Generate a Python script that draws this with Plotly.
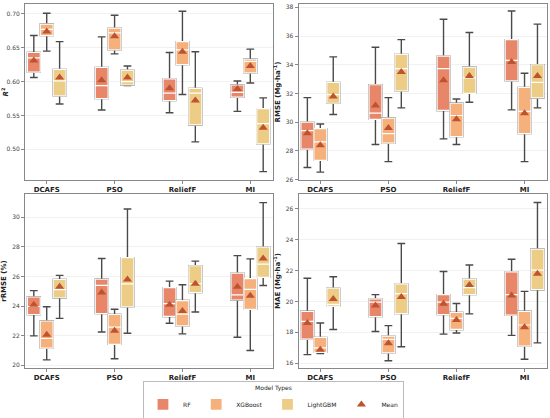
import plotly.graph_objects as go
from plotly.subplots import make_subplots

methods = ["DCAFS", "PSO", "ReliefF", "MI"]
models = ["RF", "XGBoost", "LightGBM"]

# each tuple: (lower whisker, q1, median, q3, upper whisker, mean) for DCAFS, PSO, ReliefF, MI
r2_rf = [(0.606, 0.614, 0.635, 0.643, 0.668, 0.631), (0.558, 0.575, 0.594, 0.621, 0.666, 0.602),
         (0.554, 0.572, 0.583, 0.604, 0.643, 0.590), (0.556, 0.577, 0.584, 0.595, 0.601, 0.589)]
r2_xgb = [(0.645, 0.668, 0.677, 0.685, 0.701, 0.674), (0.641, 0.647, 0.672, 0.679, 0.698, 0.667),
          (0.581, 0.625, 0.647, 0.659, 0.704, 0.644), (0.598, 0.613, 0.630, 0.633, 0.648, 0.623)]
r2_lgb = [(0.567, 0.579, 0.601, 0.618, 0.659, 0.606), (0.594, 0.595, 0.600, 0.617, 0.623, 0.606),
          (0.511, 0.536, 0.583, 0.590, 0.644, 0.572), (0.467, 0.508, 0.538, 0.560, 0.576, 0.532)]

rmse_rf = [(26.85, 28.13, 29.42, 30.01, 31.71, 29.23), (28.45, 30.20, 30.63, 32.61, 35.22, 31.16),
           (28.84, 30.82, 33.73, 34.60, 37.17, 32.93), (30.86, 32.88, 34.30, 35.75, 37.74, 34.19)]
rmse_xgb = [(26.53, 27.35, 28.64, 29.55, 29.88, 28.39), (27.26, 28.55, 29.21, 30.29, 31.71, 29.60),
            (28.45, 29.00, 30.47, 31.32, 31.62, 30.20), (27.26, 29.21, 30.75, 32.42, 33.41, 30.63)]
rmse_lgb = [(30.54, 31.32, 31.92, 32.77, 34.55, 31.80), (31.00, 32.19, 33.73, 34.72, 35.75, 33.50),
            (31.39, 32.01, 33.09, 33.84, 36.25, 33.22), (31.00, 31.69, 32.77, 34.00, 36.83, 33.22)]

rrmse_rf = [(21.99, 23.43, 23.97, 24.61, 25.04, 24.08), (22.25, 23.49, 25.39, 25.81, 27.21, 24.91),
            (22.84, 23.30, 24.17, 25.24, 25.68, 24.08), (21.90, 24.41, 24.76, 26.22, 27.40, 25.31)]
rrmse_xgb = [(20.37, 21.16, 21.81, 22.99, 23.95, 22.07), (20.44, 21.42, 22.58, 23.43, 23.78, 22.34),
             (22.12, 22.66, 23.45, 24.37, 25.44, 23.67), (21.00, 23.78, 25.13, 25.85, 27.18, 24.69)]
rrmse_lgb = [(23.17, 24.56, 25.11, 25.79, 26.07, 25.31), (22.16, 23.95, 25.50, 27.27, 30.55, 25.79),
             (23.60, 24.91, 25.52, 26.72, 27.03, 25.50), (25.39, 25.94, 26.83, 27.97, 30.98, 27.21)]

mae_rf = [(16.55, 17.56, 18.71, 19.36, 21.50, 18.60), (18.05, 19.02, 19.95, 20.16, 20.44, 19.74),
          (17.88, 19.15, 19.95, 20.44, 21.94, 19.85), (17.80, 19.11, 20.44, 21.92, 22.74, 20.38)]
mae_xgb = [(16.61, 16.70, 16.99, 17.67, 18.60, 16.87), (16.15, 16.66, 17.54, 17.75, 18.43, 17.29),
           (17.95, 18.18, 18.90, 19.28, 19.87, 18.79), (16.25, 17.10, 18.47, 19.36, 20.65, 18.33)]
mae_lgb = [(18.18, 19.68, 19.81, 20.86, 21.60, 20.16), (17.06, 19.21, 20.50, 21.14, 23.76, 20.29),
           (19.19, 20.44, 20.90, 21.45, 22.36, 21.07), (17.31, 20.76, 22.03, 23.40, 26.42, 21.79)]

colors = ["#E8866A", "#F6B07C", "#EDCD85"]
mean_color = "#C0532F"
whisk_color = "#4a4a4a"
offsets = [-0.19, 0.0, 0.19]
bw = 0.19

panels = [
    (1, 1, [r2_rf, r2_xgb, r2_lgb], [0.4547, 0.7146], 0.05, ".2f", "<b><i>R</i><sup>2</sup></b>"),
    (1, 2, [rmse_rf, rmse_xgb, rmse_lgb], [25.98, 38.23], 2, "d", "<b>RMSE (Mg·ha<sup>-1</sup>)</b>"),
    (2, 1, [rrmse_rf, rrmse_xgb, rrmse_lgb], [19.82, 31.56], 2, "d", "<b>rRMSE (%)</b>"),
    (2, 2, [mae_rf, mae_xgb, mae_lgb], [15.68, 26.97], 2, "d", "<b>MAE (Mg·ha<sup>-1</sup>)</b>"),
]

fig = make_subplots(rows=2, cols=2)

for p, (row, col, series, yr, dt, fmt, ytitle) in enumerate(panels):
    for k, stats in enumerate(series):
        xs = [i + offsets[k] for i in range(len(methods))]
        lo = [s[0] for s in stats]
        q1 = [s[1] for s in stats]
        med = [s[2] for s in stats]
        q3 = [s[3] for s in stats]
        hi = [s[4] for s in stats]
        # whiskers
        fig.add_trace(go.Box(x=xs, q1=q1, median=med, q3=q3, lowerfence=lo, upperfence=hi,
                             width=bw, whiskerwidth=0.6, fillcolor=colors[k],
                             line=dict(color=whisk_color, width=1.4),
                             showlegend=False, hoverinfo="skip"), row=row, col=col)
        # box body with white median
        fig.add_trace(go.Box(x=xs, q1=q1, median=med, q3=q3, lowerfence=q1, upperfence=q3,
                             width=bw, whiskerwidth=0, fillcolor=colors[k],
                             line=dict(color="white", width=1.2),
                             name=models[k], legendgroup=models[k], showlegend=(p == 0)),
                      row=row, col=col)
    for k, stats in enumerate(series):
        xs = [i + offsets[k] for i in range(len(methods))]
        fig.add_trace(go.Scatter(x=xs, y=[s[5] for s in stats], mode="markers",
                                 marker=dict(symbol="triangle-up", size=8, color=mean_color),
                                 name="Mean", legendgroup="Mean",
                                 showlegend=(p == 0 and k == 0)), row=row, col=col)
    fig.update_yaxes(range=yr, dtick=dt, tickformat=fmt, row=row, col=col,
                     title=dict(text=ytitle, font=dict(size=7, color="#222"), standoff=4))

fig.update_xaxes(range=[-0.32, 3.33], tickvals=list(range(len(methods))),
                 ticktext=["<b>%s</b>" % m for m in methods],
                 tickfont=dict(size=7, color="#222"), showgrid=False, zeroline=False,
                 showline=True, mirror=True, linecolor="#888", linewidth=1,
                 ticks="outside", ticklen=3, tickcolor="#888")
fig.update_yaxes(tickfont=dict(size=6, color="#444"), showgrid=True, gridcolor="#f1f1f1",
                 zeroline=False, showline=True, mirror=True, linecolor="#888", linewidth=1,
                 ticks="outside", ticklen=3, tickcolor="#888")

fig.update_layout(
    xaxis=dict(domain=[0, 0.4745]), xaxis2=dict(domain=[0.524, 1]),
    xaxis3=dict(domain=[0, 0.4745]), xaxis4=dict(domain=[0.524, 1]),
    yaxis=dict(domain=[0.5165, 1]), yaxis2=dict(domain=[0.5165, 1]),
    yaxis3=dict(domain=[0, 0.478]), yaxis4=dict(domain=[0, 0.478]),
    width=550, height=418,
    margin=dict(l=25, r=3, t=4, b=50, autoexpand=False),
    plot_bgcolor="white", paper_bgcolor="white",
    font=dict(family="DejaVu Sans", size=7, color="#222"),
    boxmode="overlay",
    legend=dict(orientation="h", x=0.476, xanchor="center", y=-0.036, yanchor="top",
                title=dict(text="Model Types", side="top center", font=dict(size=6)),
                font=dict(size=6), bordercolor="#bbb", borderwidth=1, bgcolor="white",
                itemwidth=30, tracegroupgap=0),
)

fig.write_html("out.html", config={"displayModeBar": False},
               post_script="document.body.style.margin='0';")
